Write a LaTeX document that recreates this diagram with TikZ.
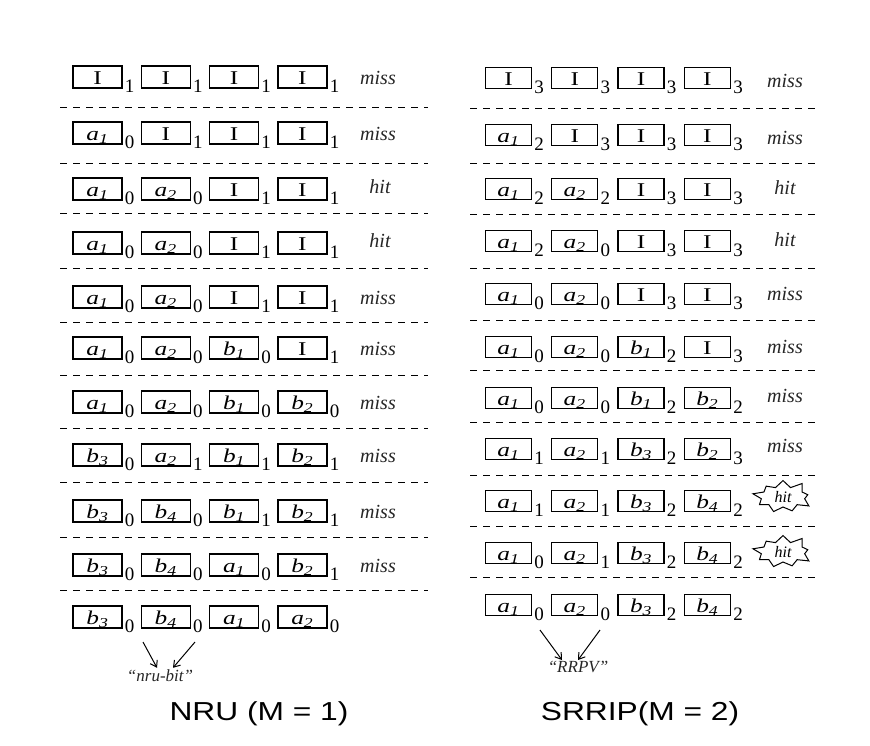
\documentclass[tikz,border=0pt]{standalone}
\usepackage{fontspec}
\usepackage{graphicx}
\setmainfont{Liberation Serif}
\newfontfamily\titlefont{Liberation Sans}
\usetikzlibrary{shapes.symbols,arrows.meta}
\newcommand\ca[1]{\textit{a}\textsubscript{\textit{#1}}}
\newcommand\cb[1]{\textit{b}\textsubscript{\textit{#1}}}
\newcommand\boxtxt[1]{\scalebox{1.3}[1]{#1}}
% #1 name, #2 box style, #3 first x, #4 spacing, #5 y, #6 list content/sub
\newcommand\cacherow[6]{%
  \foreach [count=\k] \c/\s in {#6} {
    \node[#2] (#1-\k) at ({#3+(\k-1)*#4},#5) {\boxtxt{\c}};
    \node[subnum] (#1-\k s) at ([xshift=2pt,yshift=-4pt]#1-\k.south east) {\s};
  }%
}
\begin{document}
\begin{tikzpicture}[x=1pt,y=-1pt,
  boxL/.style={draw, line width=1.3pt, minimum width=49pt, minimum height=22pt,
    inner sep=0pt, text height=14.5pt, text depth=0.5pt, font=\fontsize{19.5}{20}\selectfont},
  boxR/.style={boxL, minimum width=46pt, minimum height=21pt},
  subnum/.style={anchor=base west, inner sep=0pt, font=\fontsize{19}{20}\selectfont},
  lbl/.style={inner sep=1pt, font=\fontsize{20}{22}\selectfont\itshape, text=black!85},
  sepline/.style={dash pattern=on 7pt off 6pt, line width=1pt},
  burst/.style={starburst, draw, line width=1pt, starburst points=9,
    starburst point height=9pt, inner sep=0pt, minimum width=62pt, minimum height=38pt,
    font=\fontsize{16}{18}\selectfont\itshape},
  arr/.style={line width=1pt, -{Straight Barb[length=6pt,width=8pt]}},
  note/.style={inner sep=0pt, font=\fontsize{17}{18}\selectfont\itshape, text=black!85},
  title/.style={inner sep=0pt, font=\titlefont\fontsize{26}{30}\selectfont, xscale=1.22}
]
\useasboundingbox (0,0) rectangle (870,745);

% ---------------- NRU (left) ----------------
\def\lx{97.5}\def\ld{68.3}
\cacherow{L1}{boxL}{\lx}{\ld}{77}{I/1,I/1,I/1,I/1}
\cacherow{L2}{boxL}{\lx}{\ld}{133}{\ca{1}/0,I/1,I/1,I/1}
\cacherow{L3}{boxL}{\lx}{\ld}{189}{\ca{1}/0,\ca{2}/0,I/1,I/1}
\cacherow{L4}{boxL}{\lx}{\ld}{243}{\ca{1}/0,\ca{2}/0,I/1,I/1}
\cacherow{L5}{boxL}{\lx}{\ld}{297}{\ca{1}/0,\ca{2}/0,I/1,I/1}
\cacherow{L6}{boxL}{\lx}{\ld}{348}{\ca{1}/0,\ca{2}/0,\cb{1}/0,I/1}
\cacherow{L7}{boxL}{\lx}{\ld}{402}{\ca{1}/0,\ca{2}/0,\cb{1}/0,\cb{2}/0}
\cacherow{L8}{boxL}{\lx}{\ld}{455}{\cb{3}/0,\ca{2}/1,\cb{1}/1,\cb{2}/1}
\cacherow{L9}{boxL}{\lx}{\ld}{511}{\cb{3}/0,\cb{4}/0,\cb{1}/1,\cb{2}/1}
\cacherow{L10}{boxL}{\lx}{\ld}{565}{\cb{3}/0,\cb{4}/0,\ca{1}/0,\cb{2}/1}
\cacherow{L11}{boxL}{\lx}{\ld}{617}{\cb{3}/0,\cb{4}/0,\ca{1}/0,\ca{2}/0}

\node[lbl] (L1m) at (378,78) {miss};
\node[lbl] (L2m) at (378,134) {miss};
\node[lbl] (L3m) at (380,187) {hit};
\node[lbl] (L4m) at (380,241) {hit};
\node[lbl] (L5m) at (378,298) {miss};
\node[lbl] (L6m) at (378,349) {miss};
\node[lbl] (L7m) at (378,403) {miss};
\node[lbl] (L8m) at (378,456) {miss};
\node[lbl] (L9m) at (378,512) {miss};
\node[lbl] (L10m) at (378,566) {miss};

\foreach \yy in {107,163,213,268,322,375,428,482,537,590}
  \draw[sepline] (60,\yy) -- (428,\yy);

\node[note] (nru) at (160,676) {``nru-bit''};
\coordinate (nruA) at (143,642);
\coordinate (nruB) at (195,642);
\draw[arr] (nruA) -- ([xshift=-3pt,yshift=2pt]nru.north);
\draw[arr] (nruB) -- ([xshift=13pt,yshift=2pt]nru.north);

% ---------------- SRRIP (right) ----------------
\def\rx{508.5}\def\rd{66.3}
\cacherow{R1}{boxR}{\rx}{\rd}{78}{I/3,I/3,I/3,I/3}
\cacherow{R2}{boxR}{\rx}{\rd}{135}{\ca{1}/2,I/3,I/3,I/3}
\cacherow{R3}{boxR}{\rx}{\rd}{189}{\ca{1}/2,\ca{2}/2,I/3,I/3}
\cacherow{R4}{boxR}{\rx}{\rd}{241}{\ca{1}/2,\ca{2}/0,I/3,I/3}
\cacherow{R5}{boxR}{\rx}{\rd}{294}{\ca{1}/0,\ca{2}/0,I/3,I/3}
\cacherow{R6}{boxR}{\rx}{\rd}{347}{\ca{1}/0,\ca{2}/0,\cb{1}/2,I/3}
\cacherow{R7}{boxR}{\rx}{\rd}{398}{\ca{1}/0,\ca{2}/0,\cb{1}/2,\cb{2}/2}
\cacherow{R8}{boxR}{\rx}{\rd}{449}{\ca{1}/1,\ca{2}/1,\cb{3}/2,\cb{2}/3}
\cacherow{R9}{boxR}{\rx}{\rd}{501}{\ca{1}/1,\ca{2}/1,\cb{3}/2,\cb{4}/2}
\cacherow{R10}{boxR}{\rx}{\rd}{553}{\ca{1}/0,\ca{2}/1,\cb{3}/2,\cb{4}/2}
\cacherow{R11}{boxR}{\rx}{\rd}{605}{\ca{1}/0,\ca{2}/0,\cb{3}/2,\cb{4}/2}

\node[lbl] (R1m) at (785,81) {miss};
\node[lbl] (R2m) at (785,138) {miss};
\node[lbl] (R3m) at (785,188) {hit};
\node[lbl] (R4m) at (785,240) {hit};
\node[lbl] (R5m) at (785,294) {miss};
\node[lbl] (R6m) at (785,347) {miss};
\node[lbl] (R7m) at (785,396) {miss};
\node[lbl] (R8m) at (785,446) {miss};
\node[burst] (R9m) at (783,497) {hit};
\node[burst] (R10m) at (783,552) {hit};

\foreach \yy in {108,163,214,268,320,370,422,475,526,577}
  \draw[sepline] (470,\yy) -- (815,\yy);

\node[note] (rrpv) at (578,667) {``RRPV''};
\coordinate (rrA) at (540,630);
\coordinate (rrB) at (600,630);
\draw[arr] (rrA) -- ([xshift=-16pt,yshift=1pt]rrpv.north);
\draw[arr] (rrB) -- ([xshift=0pt,yshift=1pt]rrpv.north);

% ---------------- titles ----------------
\node[title] (t1) at (259,714) {NRU (M = 1)};
\node[title] (t2) at (640,714) {SRRIP(M = 2)};
\end{tikzpicture}
\end{document}
